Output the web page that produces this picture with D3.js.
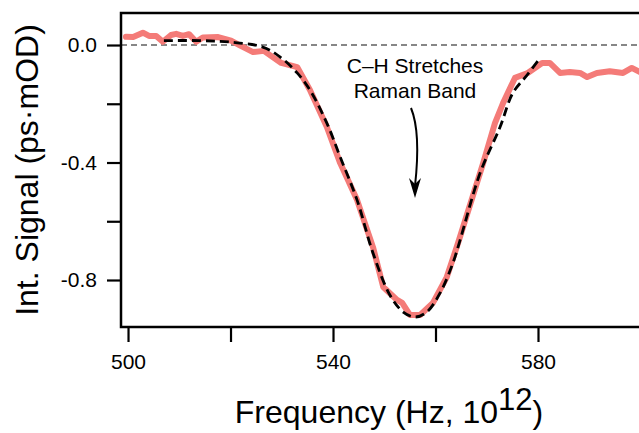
<!DOCTYPE html>
<html>
<head>
<meta charset="utf-8">
<script src="https://cdn.jsdelivr.net/npm/d3@7"></script>
<style>
  html, body { margin: 0; padding: 0; background: #fff; }
  svg { display: block; font-family: "Liberation Sans", Arial, Helvetica, sans-serif; }
</style>
</head>
<body>
<div id="chart"></div>
<script>
const measFreq = [499.6, 501.0, 502.9, 504.1, 505.5, 506.8, 508.4, 509.4, 510.7, 511.9, 513.3, 514.6,
                  517.6, 520.1, 522.0, 524.4, 526.5, 529.9, 533.0, 535.5, 538.8, 541.4, 544.7, 547.8,
                  549.8, 552.5, 553.5, 555.0, 557.0, 559.5, 562.2, 564.4, 569.3, 571.6, 573.2, 575.5,
                  578.0, 580.8, 582.3, 584.3, 586.2, 588.2, 589.6, 591.5, 594.0, 596.6, 598.3, 599.9]
const measSignal = [0.028, 0.027, 0.042, 0.031, 0.031, 0.011, 0.034, 0.038, 0.031, 0.037, 0.011, 0.026,
                    0.027, 0.015, -0.003, -0.024, -0.020, -0.061, -0.075, -0.153, -0.279, -0.402, -0.528, -0.688,
                    -0.824, -0.868, -0.878, -0.919, -0.919, -0.878, -0.790, -0.674, -0.402, -0.266, -0.197, -0.112,
                    -0.095, -0.061, -0.061, -0.095, -0.092, -0.095, -0.109, -0.095, -0.089, -0.095, -0.078, -0.092]

const fitFreq = [507.0, 514.0, 519.9, 526.3, 529.7, 533.0, 535.5, 538.8, 541.4, 544.7, 547.8, 551.1,
                 553.7, 556.0, 558.3, 560.9, 563.4, 564.8, 568.7, 572.6, 575.1, 577.9, 580.4]
const fitSignal = [0.015, 0.015, 0.010, -0.007, -0.041, -0.095, -0.153, -0.266, -0.381, -0.528, -0.708, -0.851,
                   -0.909, -0.926, -0.909, -0.844, -0.742, -0.664, -0.436, -0.279, -0.163, -0.102, -0.044]

const xTicks = [500, 520, 540, 560, 580, 600]
const xLabeled = [500, 540, 580]
const yTicks = [0, -0.2, -0.4, -0.6, -0.8]
const yLabeled = [0, -0.4, -0.8]

const W = 639, H = 433
const plot = { left: 121, right: 645, top: 13, bottom: 327 }

let svg = d3.select("#chart")
            .append("svg")
                .attr("width", W)
                .attr("height", H)
                .attr("viewBox", `0 0 ${W} ${H}`)

let x = d3.scaleLinear().domain([498.63, 600.88]).range([plot.left, plot.right])
let y = d3.scaleLinear().domain([0.109, -0.96]).range([plot.top, plot.bottom])

// zero reference line
svg.append("line")
    .attr("x1", plot.left).attr("x2", plot.right)
    .attr("y1", y(0)).attr("y2", y(0))
    .attr("stroke", "#111")
    .attr("stroke-width", 1.2)
    .attr("stroke-dasharray", "6,4")

let meas = measFreq.map((f, i) => [f, measSignal[i]])
let fit = fitFreq.map((f, i) => [f, fitSignal[i]])

let line = d3.line().x(d => x(d[0])).y(d => y(d[1]))

svg.append("path")
    .attr("d", line(meas))
    .attr("fill", "none")
    .attr("stroke", "#f47b78")
    .attr("stroke-width", 6)
    .attr("stroke-linejoin", "round")
    .attr("stroke-linecap", "round")

svg.append("path")
    .attr("d", line.curve(d3.curveCatmullRom)(fit))
    .attr("fill", "none")
    .attr("stroke", "#000")
    .attr("stroke-width", 2.8)
    .attr("stroke-dasharray", "9,5")

// frame
svg.append("rect")
    .attr("x", plot.left).attr("y", plot.top)
    .attr("width", plot.right - plot.left)
    .attr("height", plot.bottom - plot.top)
    .attr("fill", "none")
    .attr("stroke", "#000")
    .attr("stroke-width", 2.5)

// axes
let xAxis = d3.axisBottom(x)
                .tickValues(xTicks)
                .tickSize(15)
                .tickPadding(12)
                .tickFormat(d => xLabeled.includes(d) ? d3.format("d")(d) : "")
let yAxis = d3.axisLeft(y)
                .tickValues(yTicks)
                .tickSize(14)
                .tickPadding(10)
                .tickFormat(d => yLabeled.includes(d) ? d3.format(".1f")(d).replace("−", "-") : "")

let gx = svg.append("g").attr("transform", `translate(0,${plot.bottom})`).call(xAxis)
let gy = svg.append("g").attr("transform", `translate(${plot.left},0)`).call(yAxis)
for (let g of [gx, gy]) {
    g.select(".domain").remove()
    g.selectAll(".tick line").attr("stroke", "#000").attr("stroke-width", 2.2)
    g.selectAll(".tick text")
        .attr("fill", "#000")
        .style("font-size", "21px")
        .style("font-family", "Liberation Sans, Arial, sans-serif")
}

// axis titles
svg.append("text")
    .attr("x", 389).attr("y", 423)
    .attr("text-anchor", "middle")
    .style("font-size", "32px")
    .call(t => {
        t.append("tspan").text("Frequency (Hz, 10")
        t.append("tspan").attr("dy", -13).style("font-size", "31px").text("12")
        t.append("tspan").attr("dy", 13).text(")")
    })

svg.append("text")
    .attr("transform", `translate(38,${(plot.top + plot.bottom) / 2}) rotate(-90)`)
    .attr("text-anchor", "middle")
    .style("font-size", "32px")
    .text("Int. Signal (ps·mOD)")

// annotation
svg.append("text")
    .attr("x", 415).attr("y", 73)
    .attr("text-anchor", "middle")
    .style("font-size", "21px")
    .call(t => {
        t.append("tspan").attr("x", 415).text("C–H Stretches")
        t.append("tspan").attr("x", 415).attr("dy", 25).text("Raman Band")
    })

svg.append("path")
    .attr("d", "M411,108 C418,125 419,150 415,186")
    .attr("fill", "none")
    .attr("stroke", "#000")
    .attr("stroke-width", 2)
svg.append("path")
    .attr("d", "M409,178 L415,198 L421,178 L415,184 Z")
    .attr("fill", "#000")
</script>
</body>
</html>
